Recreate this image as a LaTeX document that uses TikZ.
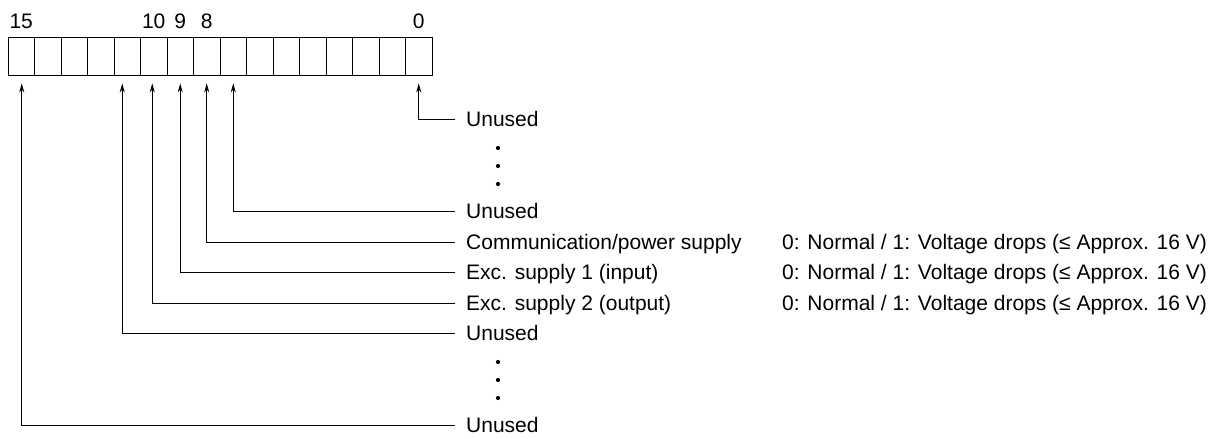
\documentclass[tikz,border=0pt]{standalone}
\usepackage{fontspec}
\setmainfont{Liberation Sans}
\usetikzlibrary{arrows.meta,calc}
\begin{document}
\begin{tikzpicture}[x=1pt,y=-1pt,
  font=\fontsize{21}{25}\selectfont,
  cell/.style={draw, line width=0.9pt, minimum width=26.5pt, minimum height=38pt, inner sep=0pt, anchor=center},
  bitnum/.style={anchor=base, inner sep=0pt},
  lab/.style={anchor=west, inner xsep=11pt, inner ysep=0pt, text height=15pt, text depth=0pt},
  desc/.style={anchor=west, inner sep=0pt, text height=15pt, text depth=0pt},
  conn/.style={line width=0.8pt, {Stealth[length=9pt,width=5pt]}-},
  vdot/.style={fill, circle, inner sep=0pt, minimum size=4.2pt}]
\useasboundingbox (0,0) rectangle (1224,439);
% register cells
\foreach \i in {0,...,15} {
  \node[cell] (c\i) at ({8+(15-\i)*26.5+13.25},56) {};
}
% bit numbers
\node[bitnum] (n15) at ($(c15.north)+(0,-8)$) {15};
\node[bitnum] (n10) at ($(c10.north)+(0,-8)$) {10};
\node[bitnum] (n9) at ($(c9.north)+(0,-8)$) {9};
\node[bitnum] (n8) at ($(c8.north)+(0,-8)$) {8};
\node[bitnum] (n0) at ($(c0.north)+(0,-8)$) {0};
% labels
\node[lab] (u0) at (455,119) {Unused};
\node[lab] (u7) at (455,211) {Unused};
\node[lab] (l8) at (455,242) {Communication/power supply};
\node[lab] (l9) at (455,272) {Exc. supply 1 (input)};
\node[lab] (l10) at (455,303) {Exc. supply 2 (output)};
\node[lab] (u11) at (455,333) {Unused};
\node[lab] (u15) at (455,425) {Unused};
% descriptions
\node[desc] (v8) at (782,242) {0: Normal / 1: Voltage drops (≤ Approx. 16 V)};
\node[desc] (v9) at (782,272) {0: Normal / 1: Voltage drops (≤ Approx. 16 V)};
\node[desc] (v10) at (782,303) {0: Normal / 1: Voltage drops (≤ Approx. 16 V)};
% ellipsis dots
\node[vdot] (da1) at (498,148) {};
\node[vdot] (da2) at (498,166) {};
\node[vdot] (da3) at (498,184) {};
\node[vdot] (db1) at (498,362) {};
\node[vdot] (db2) at (498,380) {};
\node[vdot] (db3) at (498,398) {};
% connectors
\draw[conn] ($(c0.south)+(0,8)$) |- (u0.west);
\draw[conn] ($(c7.south)+(0,8)$) |- (u7.west);
\draw[conn] ($(c8.south)+(0,8)$) |- (l8.west);
\draw[conn] ($(c9.south)+(0,8)$) |- (l9.west);
\draw[conn] ($(c10.south)+(-1.5,8)$) |- (l10.west);
\draw[conn] ($(c11.south)+(-5,8)$) |- (u11.west);
\draw[conn] ($(c15.south)+(0.5,8)$) |- (u15.west);
\end{tikzpicture}
\end{document}
